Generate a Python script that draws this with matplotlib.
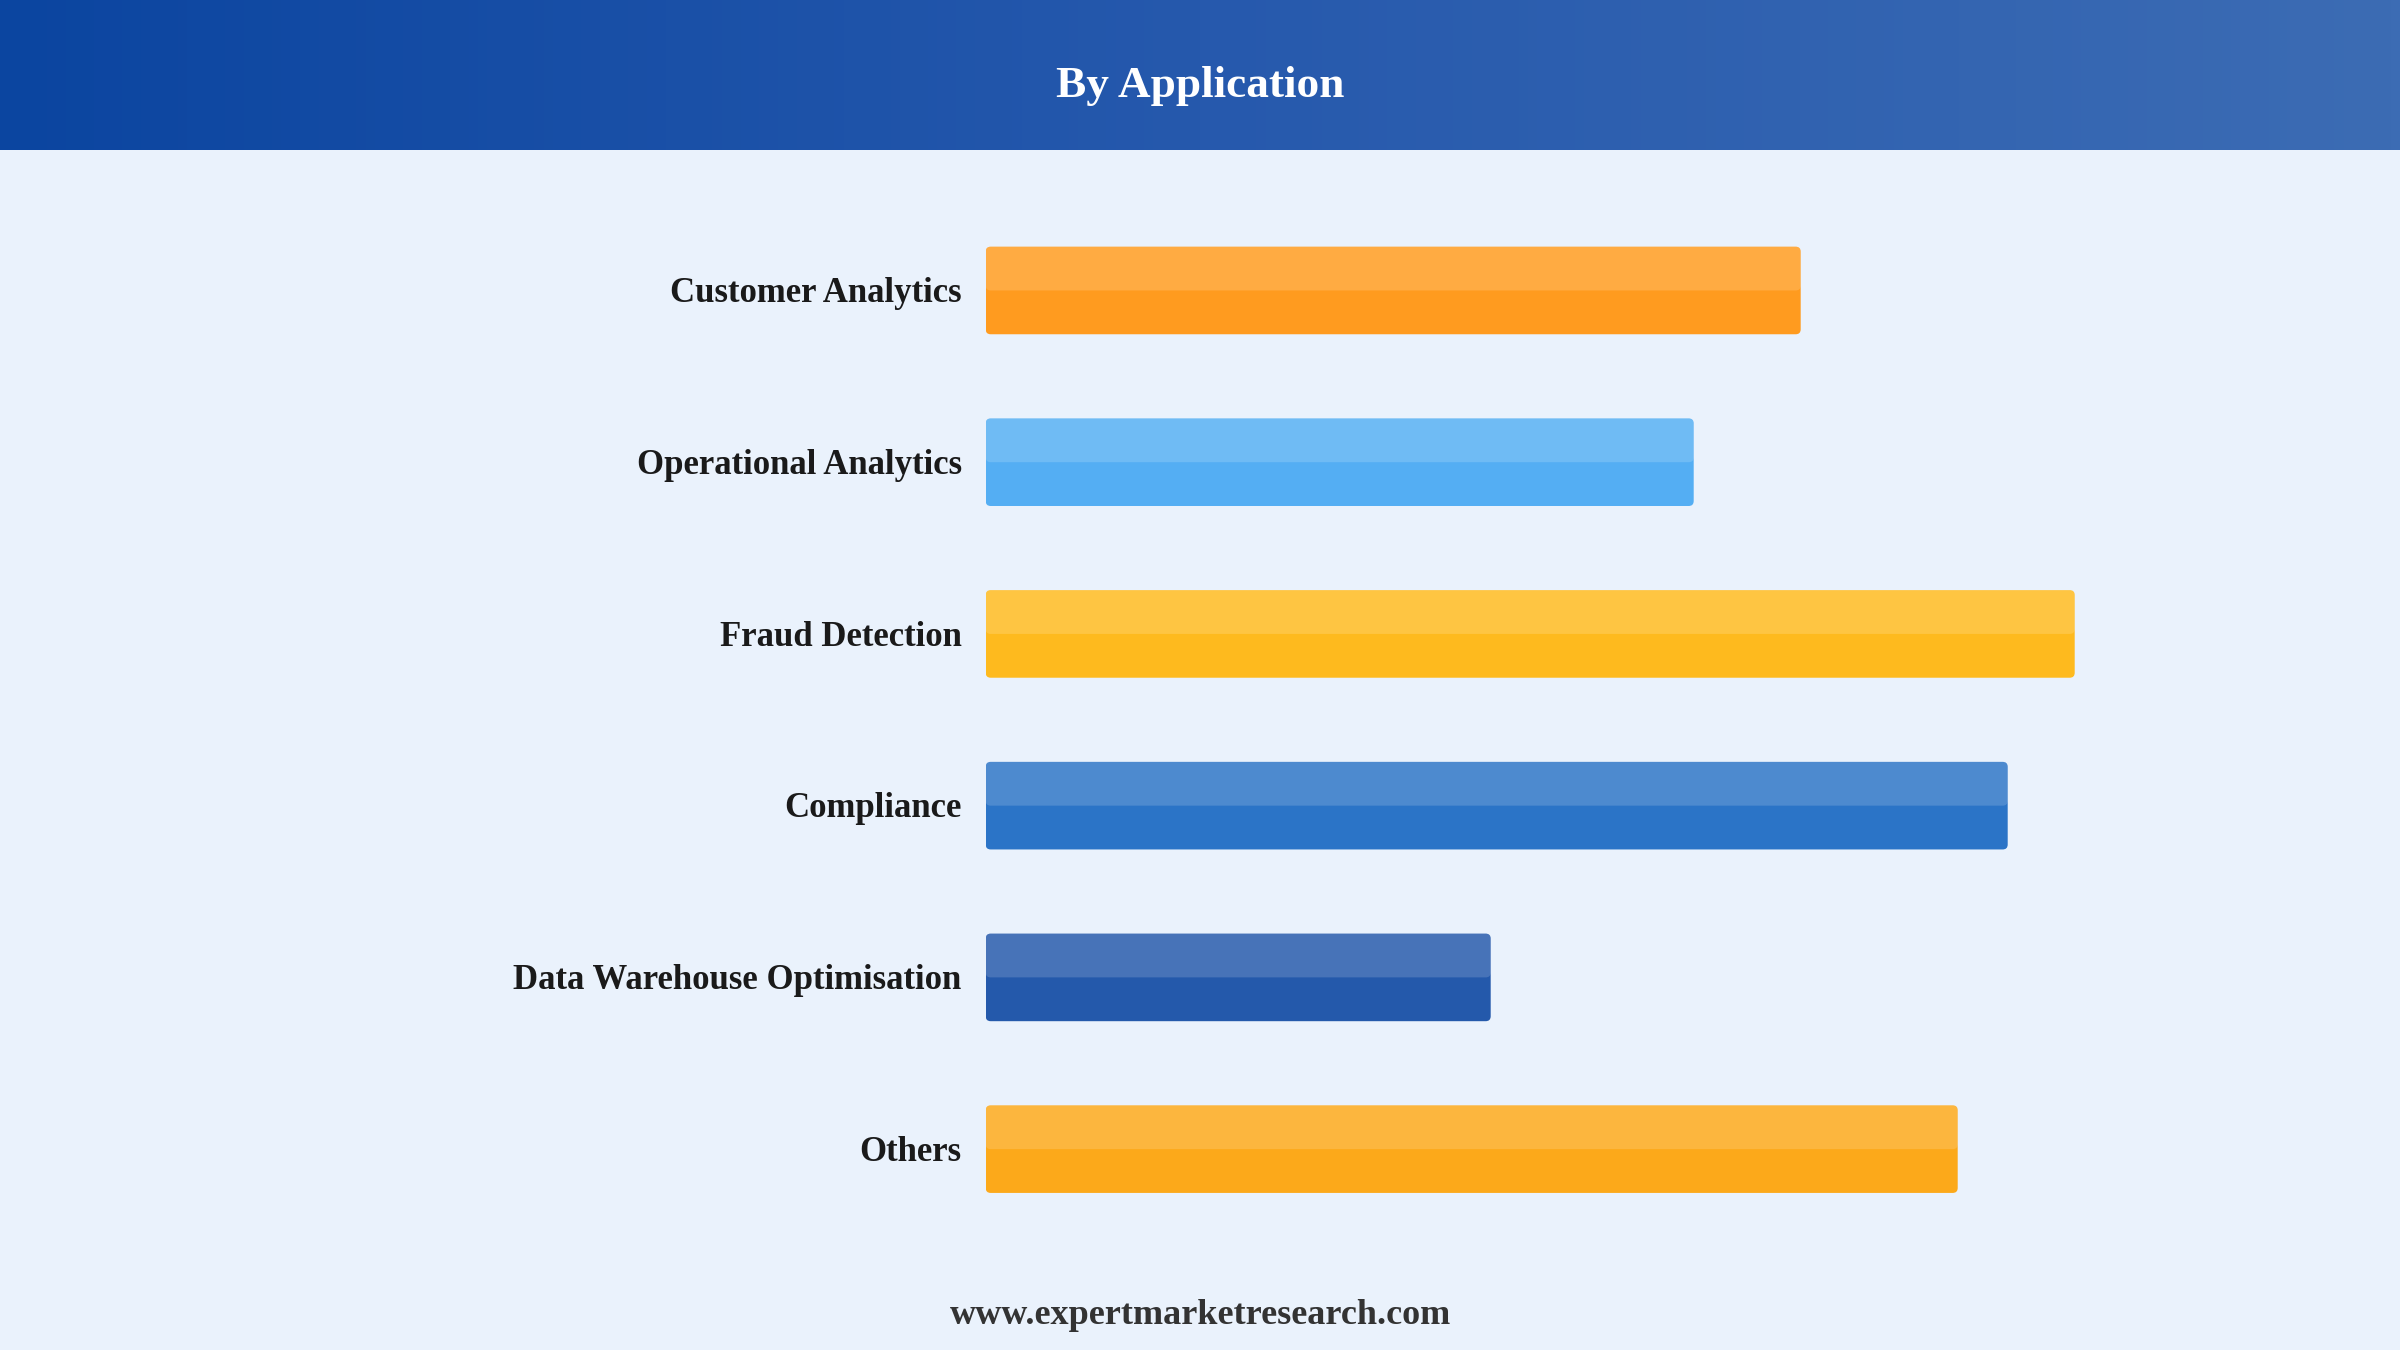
import numpy as np
import matplotlib.pyplot as plt
from matplotlib.patches import FancyBboxPatch
from matplotlib.colors import LinearSegmentedColormap

categories = ["Customer Analytics", "Operational Analytics", "Fraud Detection",
              "Compliance", "Data Warehouse Optimisation", "Others"]
values = [815, 708, 1089, 1022, 505, 972]
colors = ["#FF9B1F", "#54AEF3", "#FEBA1E", "#2B74C7", "#2459AB", "#FCA91A"]

title = "By Application"
footer = "www.expertmarketresearch.com"

W, H = 2400, 1350
DPI = 200
BG = "#EAF2FC"
serif = ["Liberation Serif", "DejaVu Serif"]

fig = plt.figure(figsize=(W / DPI, H / DPI), dpi=DPI, facecolor=BG)

# header band with horizontal gradient
hdr_h = 150
hax = fig.add_axes([0, 1 - hdr_h / H, 1, hdr_h / H])
cmap = LinearSegmentedColormap.from_list("hdr", ["#0B45A0", "#2659AD", "#3C6CB4"])
hax.imshow(np.linspace(0, 1, 256).reshape(1, -1), aspect="auto", cmap=cmap,
           extent=[0, 1, 0, 1])
hax.set_axis_off()
hax.text(0.5, 0.43, title, ha="center", va="center", color="white",
         fontsize=16.3, fontweight="bold", family=serif, transform=hax.transAxes)

# bar area
x0 = 985.7
top, bottom = 204.6, 1235.0
ax = fig.add_axes([x0 / W, 1 - bottom / H, (W - x0) / W, (bottom - top) / H])
ax.set_facecolor(BG)
ax.set_xlim(0, W - x0)
ax.set_ylim(len(categories) - 0.5, -0.5)
ax.set_axis_off()

ypos = np.arange(len(categories))
bar_h = 0.51
bars = ax.barh(ypos, values, height=bar_h, color=colors)

px_per_y = (bottom - top) / len(categories)
r = 5
for rect, c in zip(bars, colors):
    x, y, w, h = rect.get_x(), rect.get_y(), rect.get_width(), rect.get_height()
    rect.remove()
    box = FancyBboxPatch((x, y), w, h, boxstyle=f"round,pad=0,rounding_size={r}",
                         mutation_aspect=1 / px_per_y, facecolor=c, edgecolor="none")
    ax.add_patch(box)
    # lighter upper half
    hi = FancyBboxPatch((x, y), w, h / 2, boxstyle=f"round,pad=0,rounding_size={r}",
                        mutation_aspect=1 / px_per_y, facecolor="white",
                        alpha=0.16, edgecolor="none")
    ax.add_patch(hi)

for yp, label in zip(ypos, categories):
    ax.text(-24, yp + 0.018, label, ha="right", va="center", fontsize=12.5,
            fontweight="bold", family=serif, color="#1a1a1a", clip_on=False)

fig.text(0.5, 1 - 1316 / H, footer, ha="center", va="center", fontsize=13,
         fontweight="bold", family=serif, color="#333333")

fig.savefig("out.png", dpi=DPI, facecolor=BG)
